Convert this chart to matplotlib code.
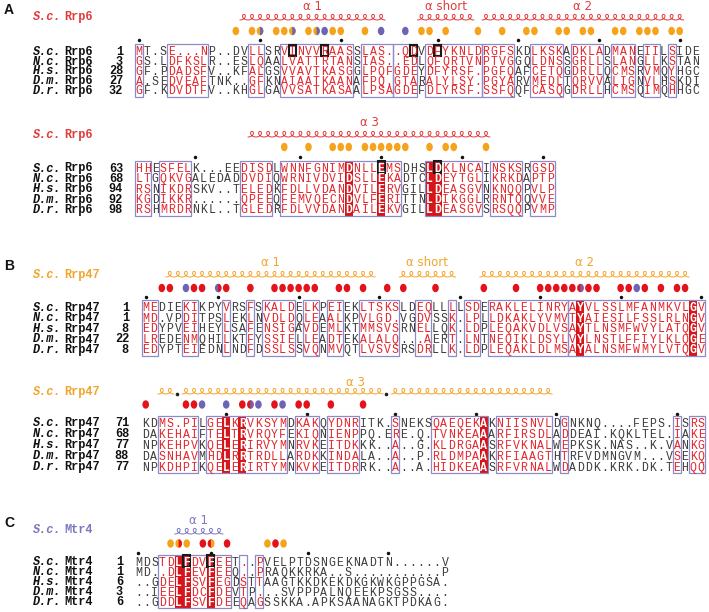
import numpy as np
import matplotlib
matplotlib.use("Agg")
import matplotlib.pyplot as plt
from matplotlib.patches import Rectangle, Ellipse, Polygon

# ---------------- DATA ----------------
species = ["S.c.", "N.c.", "H.s.", "D.m.", "D.r."]

# Panel A, Rrp6, block 1
rrp6_1_start = [1, 3, 28, 27, 32]
rrp6_1_seqs = [
    "MT.SE...NP..DVLLSRVINVVRAASSLAS..QDVDFYKNLDRGFSKDLKSKADKLADMANEIILSIDE",
    "GS.LDFKSLR..ESLQAALVATTRTANSIAS..EDLQFQRTVNPTVGGQLDNSSGRLLSLANGLLKSTAN",
    "GF.PDADSFV..KFALGSVVAVTKASGGLPQFGDEYDFYRSF.PGFQAFCETQGDRLLQCMSRVMQYHGC",
    "A.SEDVEAFTNK..GFKNAIAATKAANAFPQ.GTARALYLSY.PGYARVMEDLTQRVVALIGNVLHSKDI",
    "GF.KDVDTFV..KHGLGAVVSATKASAALPSAGDEFDLYRSF.SSFQQFCASQGDRLLHCMSQIMQHHGC",
]
rrp6_1_boxes = [(0, 0), (4, 8), (14, 15), (18, 26), (28, 31), (32, 34), (36, 42),
                (43, 46), (49, 52), (54, 57), (59, 61), (63, 64), (66, 66)]
rrp6_1_ident = []
rrp6_1_framed = [19, 23, 34, 37]
rrp6_1_helices = [(13, 30, "\u03b1 1"), (35, 41, "\u03b1 short"), (43, 67, "\u03b1 2")]
rrp6_1_contacts = [(12, "o"), (14, "o"), (15, "op"), (17, "o"), (18, "o"), (19, "op"),
                   (21, "o"), (22, "op"), (23, "p"), (24, "o"), (25, "o"), (28, "o"),
                   (30, "p"), (33, "p"), (35, "o"), (36, "o"), (38, "o"), (42, "o"),
                   (45, "o"), (48, "o"), (49, "o"), (52, "o"), (53, "o"), (55, "o"),
                   (56, "o"), (59, "o"), (60, "o"), (62, "o"), (63, "o"), (64, "o"),
                   (66, "o"), (67, "o")]

# Panel A, Rrp6, block 2
rrp6_2_start = [63, 68, 94, 92, 98]
rrp6_2_seqs = [
    "HHESFELK...EEDISDLWNNFGNIMDNLLEMSDHSLDKLNCAINSKSRGSD",
    "LTGQKVGALEDADDVDIQWRNIVDVIDSLLEKADTCLDEYTGLIKRKDAPTP",
    "RSNIKDRSKV..TELEDKFDLLVDANDVILERVGILLDEASGVNKNQQPVLP",
    "KGDIKKR......QPEEQFEMVQECNDVLFERITTNLDIKGGLRRNTQQVVE",
    "RSHMRDRNKL..TGLEDRFDLVVDANDAILEKVGILLDEASGVSRSQQPVMP",
]
rrp6_2_boxes = [(0, 1), (3, 6), (13, 16), (18, 32), (36, 42), (44, 47), (49, 51)]
rrp6_2_ident = [26, 30, 36, 37]
rrp6_2_framed = [30, 37]
rrp6_2_helices = [(14, 43, "\u03b1 3")]
rrp6_2_contacts = [(c, "o") for c in [18, 21, 24, 25, 26, 28, 29, 30, 31, 32, 33, 36, 38, 39, 43]]

# Panel B, Rrp47, block 1
rrp47_1_start = [1, 1, 8, 22, 8]
rrp47_1_seqs = [
    "MEDIEKIKPYVRSFSKALDELKPEIEKLTSKSLDEQLLLLSDERAKLELINRYAYVLSSLMFANMKVLGV",
    "MD.VPDITPSLEKLNVDLDQLEAALKPVLGD.VGDVSSK.LPLLDKAKLYVMVTYAIESILFSSLRLNGV",
    "EDYPVEIHEYLSAFENSIGAVDEMLKTMMSVSRNELLQK.LDPLEQAKVDLVSAYTLNSMFWVYLATQGV",
    "LREDENMQHILKTFYSSIELLEADTEKALALQ...AERT.LNTNEQIKLDSYLVYLNSTLFFIYLKLQGE",
    "EDYPTEIEDNLNDFDSSLSSVQNMVQTLVSVSRSDRLLK.LDPLEQAKLDLMSAYALNSMFWMYLVTQGV",
]
rrp47_1_boxes = [(0, 1), (5, 6), (10, 10), (13, 13), (15, 18), (20, 21), (23, 24),
                 (27, 31), (34, 35), (38, 38), (40, 41), (43, 52), (53, 69)]
rrp47_1_ident = [54, 68]
rrp47_1_framed = []
rrp47_1_helices = [(3, 28, "\u03b1 1"), (32, 38, "\u03b1 short"), (42, 67, "\u03b1 2")]
rrp47_1_contacts = [(2, "r"), (3, "r"), (5, "p"), (6, "r"), (7, "r"), (9, "pr"), (10, "r"),
                    (13, "r"), (16, "r"), (17, "r"), (18, "r"), (19, "r"), (20, "r"),
                    (21, "r"), (24, "r"), (25, "r"), (27, "r"), (30, "r"), (32, "r"),
                    (36, "r"), (42, "r"), (46, "r"), (49, "r"), (50, "r"), (51, "r"),
                    (52, "r"), (53, "r"), (54, "rp"), (55, "r"), (56, "r"), (59, "r"),
                    (60, "r"), (61, "p"), (62, "r"), (64, "r"), (66, "r"), (67, "r")]

# Panel B, Rrp47, block 2
rrp47_2_start = [71, 68, 77, 88, 77]
rrp47_2_seqs = [
    "KDMS.PILGELKRVKSYMDKAKQYDNRITK.SNEKSQAEQEKAKNIISNVLDGNKNQ....FEPS.ISRS",
    "DAKEHAIFTELTRVRQYFEKIQNIENPPQ.ERE.Q.TVNKEAAARFIRSDLADDEAI.KQKLTEL.IAKE",
    "NPKEHPVKQELERIRVYMNRVKEITDKKK..A..G.KLDRGAASRFVKNALWEPKSK.NAS..K.VANKG",
    "DASNHAVMHDLRRTRDLLARDKKINDALA..A..P.RLDMPAAKRFIAAGTHTRFVDMNGVM...VSEKQ",
    "NPKDHPIKQELERIRTYMNKVKEITDRRK..A..A.HIDKEAASRFVRNALWDADDK.KRK.DK.TEHQQ",
]
rrp47_2_boxes = [(2, 6), (8, 17), (19, 21), (23, 26), (31, 31), (36, 42), (44, 50),
                 (52, 52), (66, 66), (68, 69)]
rrp47_2_ident = [10, 12, 42]
rrp47_2_framed = []
rrp47_2_helices = [(2, 3, ""), (5, 29, ""), (31, 50, "")]
rrp47_2_turns = [4, 30]
rrp47_2_label = ("\u03b1 3", 26)
rrp47_2_contacts = [(0, "r"), (5, "r"), (6, "r"), (7, "p"), (10, "p"), (12, "r"), (13, "rp"),
                    (14, "p"), (16, "r"), (17, "p"), (19, "r"), (20, "r"), (23, "r"), (27, "r")]

# Panel C, Mtr4
mtr4_start = [1, 1, 6, 3, 6]
mtr4_seqs = [
    "MDSTDLFDVFEET..PVELPTDSNGEKNADTN......V",
    "MD..DLFEVFEEQ..PRAQKKRKA..S...........P",
    "..GDELFSVFEGDSTTAAGTKKDKEKDKGKWKGPPGSA.",
    "..IEELFDCFDEVTP...SVPPPALNQEEKPSGSS....",
    "..GDDLFSVFDEEQAGSSKKA.APKSAANAGKTPDKAG.",
]
mtr4_boxes = [(3, 11), (13, 13), (15, 15)]
mtr4_ident = [5, 6, 9]
mtr4_framed = [6, 9]
mtr4_helices = [(5, 10, "\u03b1 1")]
mtr4_contacts = [(4, "o"), (5, "or"), (6, "o"), (8, "r"), (9, "ro"), (11, "r"),
                 (16, "o"), (17, "r"), (18, "o")]

# ---------------- STYLE ----------------
RED_TXT = "#e3262c"
DARK = "#3c3c3c"
BOXC = "#8b8bc9"
FILL = "#d7141a"
C_RRP6 = "#e23b3b"
C_RRP47 = "#f2a52b"
C_MTR4 = "#7b78be"
DOTC = {"o": "#f5a31a", "p": "#6e64b4", "r": "#e3121b"}
MONO = "Liberation Mono"

fig = plt.figure(figsize=(7.09, 6.12), dpi=100)
ax = fig.add_axes([0, 0, 1, 1])
ax.set_xlim(0, 709)
ax.set_ylim(612, 0)
ax.axis("off")


def coil(xa, xb, yb, n, color):
    p = (xb - xa) / n
    t = np.linspace(-np.pi, 2 * np.pi * n - np.pi, 80 * n)
    d = p / (2 * np.pi) * 2.5
    x = xa + p / 2 + p * t / (2 * np.pi) - d * np.sin(t)
    y = yb - 5.6 * (1 + np.cos(t)) / 2
    ax.plot(x, y, color=color, lw=0.7, solid_capstyle="round")


def ellipse(x, y, code):
    w, h = 6.6, 8.4
    ax.add_patch(Ellipse((x, y), w, h, fc=DOTC[code[0]], ec="none", zorder=3))
    if len(code) == 2:
        th = np.linspace(-np.pi / 2, np.pi / 2, 30)
        pts = np.column_stack([x + w / 2 * np.cos(th), y + h / 2 * np.sin(th)])
        ax.add_patch(Polygon(pts, closed=True, fc=DOTC[code[1]], ec="none", zorder=3))


def draw_block(L, seqs, starts, protein, tcolor, boxes, ident, framed, helices,
               contacts, turns=(), label=None):
    x0, p, rows = L["x0"], L["pitch"], L["rows"]
    X = lambda c: x0 + c * p
    top, bot = rows[0] - 7.5, rows[-1] + 6.0

    # title
    ax.text(33, L["ty"] + 3, "S.c.", color=tcolor, family=MONO, fontsize=8.6,
            weight="bold", style="italic", va="baseline")
    ax.text(64, L["ty"] + 3, protein, color=tcolor, family=MONO, fontsize=8.6,
            weight="bold", va="baseline")

    # helices
    for a, b, name in helices:
        coil(X(a) - p / 2, X(b) + p / 2, L["hy"], b - a + 1, tcolor)
        if name:
            ax.text((X(a) + X(b)) / 2, L["ly"], name, color=tcolor, fontsize=8.5,
                    ha="center", va="center", family="DejaVu Sans")
    for c in turns:
        ax.plot([X(c) - 1], [L["hy"]], marker="o", ms=1.6, color="#222")
    if label:
        ax.text(X(label[1]), L["ly"], label[0], color=tcolor, fontsize=8.5,
                ha="center", va="center", family="DejaVu Sans")

    # contacts
    for c, code in contacts:
        ellipse(X(c), L["ey"], code)

    # ruler dots (every 10th residue of the first sequence)
    n = starts[0]
    for c, ch in enumerate(seqs[0]):
        if ch != ".":
            if n == 1 or n % 10 == 0:
                ax.plot([X(c)], [L["dy"]], marker="o", ms=1.5, color="#111")
            n += 1

    inbox = set()
    for a, b in boxes:
        inbox.update(range(a, b + 1))
    for c in ident:
        ax.add_patch(Rectangle((X(c) - p / 2, top), p, bot - top, fc=FILL,
                               ec="none", zorder=1))
    for a, b in boxes:
        ax.add_patch(Rectangle((X(a) - p / 2, top), (b - a + 1) * p, bot - top,
                               fill=False, ec=BOXC, lw=0.9, zorder=2))
    for c in framed:
        ax.add_patch(Rectangle((X(c) - p / 2 + 0.6, top + 0.3), p - 1.2, 11.5,
                               fill=False, ec="#1a1a1a", lw=1.5, zorder=4))

    for r, (seq, y, st) in enumerate(zip(seqs, rows, starts)):
        ax.text(33, y + 3, species[r], family=MONO, fontsize=8.6, weight="bold",
                style="italic", va="baseline", color="#111")
        ax.text(64, y + 3, protein, family=MONO, fontsize=8.6, weight="bold",
                va="baseline", color="#111")
        ax.text(L["nx"], y + 3, str(st), family=MONO, fontsize=8.6, weight="bold",
                va="baseline", ha="right", color="#111")
        for c, ch in enumerate(seq):
            if c in ident:
                col, wt = "white", "bold"
            elif c in inbox:
                col, wt = RED_TXT, "normal"
            else:
                col, wt = DARK, "normal"
            ax.text(X(c), y + 3.3, ch, family=MONO, fontsize=8.3, color=col,
                    weight=wt, ha="center", va="baseline", zorder=5)


LA1 = dict(x0=139, pitch=8.07, rows=[51.7 + 9.85 * i for i in range(5)], ty=17,
           hy=20, ly=6, ey=31, dy=40, nx=123)
LA2 = dict(x0=139, pitch=8.07, rows=[168.5 + 10.4 * i for i in range(5)], ty=135,
           hy=137, ly=123, ey=147, dy=157, nx=123)
LB1 = dict(x0=145.7, pitch=8.05, rows=[307.7 + 10.6 * i for i in range(5)], ty=275,
           hy=277, ly=263, ey=288, dy=297, nx=129)
LB2 = dict(x0=145.7, pitch=8.05, rows=[423.3 + 11.0 * i for i in range(5)], ty=392,
           hy=394, ly=382, ey=404.5, dy=414, nx=129)
LC = dict(x0=138.3, pitch=8.07, rows=[562.3 + 10.0 * i for i in range(5)], ty=530,
          hy=534, ly=520, ey=543.5, dy=552.5, nx=123)

draw_block(LA1, rrp6_1_seqs, rrp6_1_start, "Rrp6", C_RRP6, rrp6_1_boxes, rrp6_1_ident,
           rrp6_1_framed, rrp6_1_helices, rrp6_1_contacts)
draw_block(LA2, rrp6_2_seqs, rrp6_2_start, "Rrp6", C_RRP6, rrp6_2_boxes, rrp6_2_ident,
           rrp6_2_framed, rrp6_2_helices, rrp6_2_contacts)
draw_block(LB1, rrp47_1_seqs, rrp47_1_start, "Rrp47", C_RRP47, rrp47_1_boxes,
           rrp47_1_ident, rrp47_1_framed, rrp47_1_helices, rrp47_1_contacts)
draw_block(LB2, rrp47_2_seqs, rrp47_2_start, "Rrp47", C_RRP47, rrp47_2_boxes,
           rrp47_2_ident, rrp47_2_framed, rrp47_2_helices, rrp47_2_contacts,
           turns=rrp47_2_turns, label=rrp47_2_label)
draw_block(LC, mtr4_seqs, mtr4_start, "Mtr4", C_MTR4, mtr4_boxes, mtr4_ident,
           mtr4_framed, mtr4_helices, mtr4_contacts)

for lab, y in [("A", 10), ("B", 266), ("C", 523)]:
    ax.text(9, y, lab, fontsize=10, weight="bold", ha="center", va="center",
            family="Liberation Sans", color="#111")

fig.savefig("out.png", dpi=100)
